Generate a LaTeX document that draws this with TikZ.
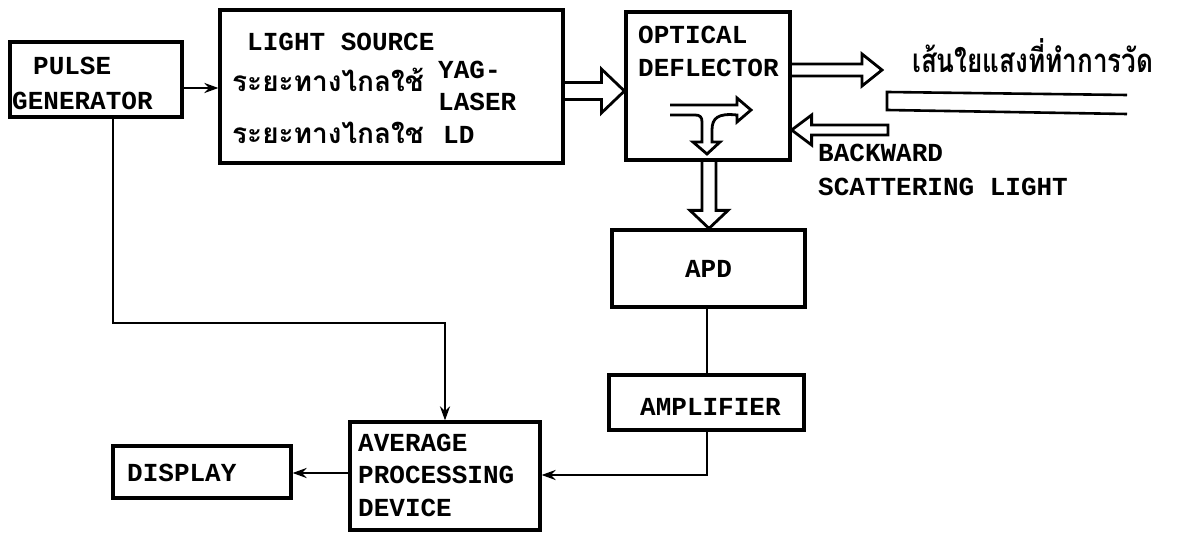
\documentclass[tikz,border=0pt]{standalone}
\usepackage{fontspec}
\setmonofont{Liberation Mono}
\newfontfamily\thaifont[Script=Thai]{Loma}
\usetikzlibrary{calc,arrows.meta}
\newcommand\hollowR[5]{\draw[hol] let \p1=(#1),\p2=(#2) in (\x1,\y1-#3) -- (\x2-#5,\y1-#3) -- (\x2-#5,\y1-#4) -- (\x2,\y1) -- (\x2-#5,\y1+#4) -- (\x2-#5,\y1+#3) -- (\x1,\y1+#3);}
\newcommand\hollowL[5]{\draw[hol] let \p1=(#1),\p2=(#2) in (\x1,\y1-#3) -- (\x2+#5,\y1-#3) -- (\x2+#5,\y1-#4) -- (\x2,\y1) -- (\x2+#5,\y1+#4) -- (\x2+#5,\y1+#3) -- (\x1,\y1+#3) -- cycle;}
\newcommand\hollowD[5]{\draw[hol] let \p1=(#1),\p2=(#2) in (\x1-#3,\y1) -- (\x1-#3,\y2+#5) -- (\x1-#4,\y2+#5) -- (\x1,\y2) -- (\x1+#4,\y2+#5) -- (\x1+#3,\y2+#5) -- (\x1+#3,\y1);}
\begin{document}
\begin{tikzpicture}[x=1pt,y=-1pt,
  box/.style={draw,line width=3.2pt,inner sep=0pt,rectangle},
  lbl/.style={font=\ttfamily\bfseries\fontsize{26}{30}\selectfont,anchor=west,inner sep=0pt},
  thl/.style={font=\thaifont\bfseries\fontsize{28}{32}\selectfont,anchor=west,inner sep=0pt},
  conn/.style={line width=2.8pt},
  tipd/.style={-{Stealth[length=14pt,width=10pt]}},
  hol/.style={line width=2.8pt,line join=miter}]
\useasboundingbox (0,0) rectangle (1184,534);
% boxes
\node[box,minimum width=172pt,minimum height=75pt] (pg) at (96,79.5) {};
\node[box,minimum width=343pt,minimum height=153pt] (ls) at (391.5,86.5) {};
\node[box,minimum width=164pt,minimum height=148pt] (od) at (708,86) {};
\node[box,minimum width=193pt,minimum height=77pt] (apd) at (708.5,268.5) {};
\node[box,minimum width=195pt,minimum height=55pt] (amp) at (706.5,402.5) {};
\node[box,minimum width=190pt,minimum height=108pt] (avg) at (445,476) {};
\node[box,minimum width=178pt,minimum height=52pt] (disp) at (202,472) {};
% texts
\node[lbl] (t1) at (33,66) {PULSE};
\node[lbl] (t2) at (12,101) {GENERATOR};
\node[lbl] (t3) at (247,42) {LIGHT SOURCE};
\node[thl] (t4) at (232,80) {ระยะทางไกลใช้};
\node[lbl] (t5) at (438,70) {YAG-};
\node[lbl] (t6) at (438,102) {LASER};
\node[thl] (t7) at (232,133) {ระยะทางไกลใช};
\node[lbl] (t8) at (443,135) {LD};
\node[lbl] (t9) at (638,35) {OPTICAL};
\node[lbl] (t10) at (638,68) {DEFLECTOR};
\node[thl,font=\thaifont\bfseries\fontsize{33}{36}\selectfont,xscale=0.79,transform shape] (t11) at (912,56) {เส้นใยแสงที่ทำการวัด};
\node[lbl] (t12) at (818,153) {BACKWARD};
\node[lbl] (t13) at (818,187) {SCATTERING LIGHT};
\node[lbl,anchor=center] (t14) at (apd.center) {APD};
\node[lbl] (t15) at (640,407) {AMPLIFIER};
\node[lbl] (t16) at (358,443) {AVERAGE};
\node[lbl] (t17) at (358,475) {PROCESSING};
\node[lbl] (t18) at (358,508) {DEVICE};
\node[lbl] (t19) at (127,473) {DISPLAY};
% helper coordinates
\coordinate (ya) at (0,88);
\coordinate (xp) at (113,323);
\coordinate (xa) at (445,0);
\coordinate (xm) at (707,475);
\coordinate (yd) at (0,473);
\coordinate (yh) at (0,91);
\coordinate (yr) at (0,70);
\coordinate (rt) at (882,70);
\coordinate (bt) at (888,130);
\coordinate (xv) at (709,0);
% single-line connectors
\draw[conn,tipd] (pg.east |- ya) -- (ls.west |- ya);
\draw[conn,tipd] (pg.south -| xp) -- (xp) -| (avg.north -| xa);
\draw[conn] (apd.south -| xm) -- (amp.north -| xm);
\draw[conn,tipd] (amp.south -| xm) -- (xm) -- (avg.east |- xm);
\draw[conn,tipd] (avg.west |- yd) -- (disp.east |- yd);
% hollow arrows
\hollowR{ls.east |- yh}{od.west |- yh}{8.5pt}{22pt}{23pt}
\hollowR{od.east |- yr}{rt}{6pt}{16pt}{20pt}
\hollowL{bt}{od.east |- bt}{5pt}{15pt}{20pt}
\hollowD{od.south -| xv}{apd.north -| xv}{7pt}{19pt}{18pt}
% inner T-arrow in deflector
\draw[hol] (670,105) -- (737,105) -- (737,98) -- (751,110) -- (737,122) -- (737,115)
  .. controls (718,113) and (712,118) .. (712,130) -- (712,142) -- (720,142) -- (707,154)
  -- (693,142) -- (702,142) -- (702,122) .. controls (702,117) and (700,115) .. (695,115) -- (670,115);
% fibre
\draw[line width=2.6pt] (1127,95) -- (887,92) -- (887,110) -- (1127,114);
\end{tikzpicture}
\end{document}
